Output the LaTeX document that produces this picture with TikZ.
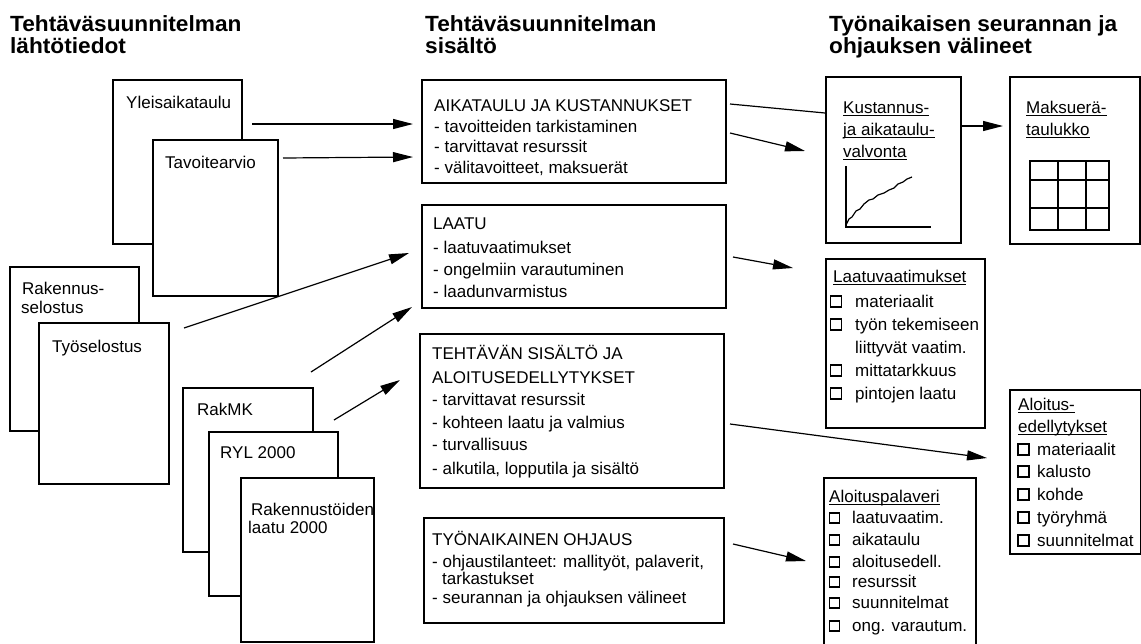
\documentclass[tikz,border=0pt]{standalone}
\usepackage{fontspec}
\setmainfont{Liberation Sans}
\newfontfamily\headfont{Liberation Sans}[FakeStretch=1.03]
\usetikzlibrary{arrows.meta,calc}
\newcommand{\ulin}[1]{\setbox0=\hbox{#1}\rlap{\rule[-2.6pt]{\wd0}{1.1pt}}\box0}

\begin{document}
\begin{tikzpicture}[x=1pt,y=-1pt,
  doc/.style={draw=black,fill=white,line width=1.5pt,anchor=north west,inner sep=0pt},
  txt/.style={anchor=base west,inner sep=0pt,font=\fontsize{17}{20}\selectfont},
  head/.style={anchor=base west,inner sep=0pt,font=\headfont\bfseries\fontsize{22}{20}\selectfont},
  chk/.style={draw=black,line width=1.2pt,minimum size=11pt,inner sep=0pt},
  arr/.style={-{Triangle[length=20pt,width=10pt]},line width=1.2pt}]
\useasboundingbox (0,0) rectangle (1141,643);
\clip (0,0) rectangle (1141,643);
\node[head] (h1a) at (10,31) {Tehtäväsuunnitelman};
\node[head] (h1b) at (10,53) {lähtötiedot};
\node[head] (h2a) at (425,31) {Tehtäväsuunnitelman};
\node[head] (h2b) at (425,53) {sisältö};
\node[head] (h3a) at (829,31) {Työnaikaisen seurannan ja};
\node[head] (h3b) at (829,53) {ohjauksen välineet};
\node[doc,minimum width=129,minimum height=164] (yleis) at (112,79) {};
\node[txt] (yleis-t) at (126,108) {Yleisaikataulu};
\node[doc,minimum width=125,minimum height=156] (tavo) at (152,139) {};
\node[txt] (tavo-t) at (165,168) {Tavoitearvio};
\node[doc,minimum width=129,minimum height=164] (rakselo) at (9,266) {};
\node[txt] (rakselo-t1) at (22,294) {Rakennus-};
\node[txt] (rakselo-t2) at (21,313) {selostus};
\node[doc,minimum width=130,minimum height=161] (tyoselo) at (38,322) {};
\node[txt] (tyoselo-t) at (52,352) {Työselostus};
\node[doc,minimum width=130,minimum height=164] (rakmk) at (182,387) {};
\node[txt] (rakmk-t) at (197,415) {RakMK};
\node[doc,minimum width=129,minimum height=164] (ryl) at (208,431) {};
\node[txt] (ryl-t) at (220,458) {RYL 2000};
\node[doc,minimum width=133,minimum height=164] (raklaatu) at (240,477) {};
\node[txt] (raklaatu-t1) at (251,515) {Rakennustöiden};
\node[txt] (raklaatu-t2) at (248,533) {laatu 2000};
\node[doc,minimum width=304,minimum height=103] (aik) at (421,79) {};
\node[txt] (aik-t1) at (434,111) {AIKATAULU JA KUSTANNUKSET};
\node[txt] (aik-t2) at (434,132) {- tavoitteiden tarkistaminen};
\node[txt] (aik-t3) at (434,152) {- tarvittavat resurssit};
\node[txt] (aik-t4) at (434,173) {- välitavoitteet, maksuerät};
\node[doc,minimum width=304,minimum height=103] (laatu) at (421,204) {};
\node[txt] (laatu-t1) at (433,229) {LAATU};
\node[txt] (laatu-t2) at (433,253) {- laatuvaatimukset};
\node[txt] (laatu-t3) at (433,275) {- ongelmiin varautuminen};
\node[txt] (laatu-t4) at (433,297) {- laadunvarmistus};
\node[doc,minimum width=304,minimum height=154] (teht) at (419,333) {};
\node[txt] (teht-t1) at (432,359) {TEHTÄVÄN SISÄLTÖ JA};
\node[txt] (teht-t2) at (432,383) {ALOITUSEDELLYTYKSET};
\node[txt] (teht-t3) at (432,405) {- tarvittavat resurssit};
\node[txt] (teht-t4) at (432,428) {- kohteen laatu ja valmius};
\node[txt] (teht-t5) at (432,450) {- turvallisuus};
\node[txt] (teht-t6) at (432,474) {- alkutila, lopputila ja sisältö};
\node[doc,minimum width=300,minimum height=105] (tyon) at (423,517) {};
\node[txt] (tyon-t1) at (432,545) {TYÖNAIKAINEN OHJAUS};
\node[txt] (tyon-t2) at (432,567) {- ohjaustilanteet: mallityöt, palaverit,};
\node[txt] (tyon-t3) at (442,584) {tarkastukset};
\node[txt] (tyon-t4) at (432,603) {- seurannan ja ohjauksen välineet};
\node[doc,minimum width=135,minimum height=166] (kust) at (825,76) {};
\node[txt] (kust-t1) at (843,113) {\ulin{Kustannus-}};
\node[txt] (kust-t2) at (843,135) {\ulin{ja aikataulu-}};
\node[txt] (kust-t3) at (843,157) {\ulin{valvonta}};
\draw[line width=1.4pt] (846,166) -- (846,227) -- (931,227);
\draw[line width=1.2pt] (846,225) -- (849,219) -- (852,217) -- (856,211) -- (860,209) -- (864,204) -- (869,200) -- (873,199) -- (878,195) -- (884,193) -- (889,190) -- (894,188) -- (898,184) -- (903,182) -- (907,179) -- (912,177);
\node[doc,minimum width=130,minimum height=167] (maks) at (1009,76) {};
\node[txt] (maks-t1) at (1026,113) {\ulin{Maksuerä-}};
\node[txt] (maks-t2) at (1026,135) {\ulin{taulukko}};
\draw[line width=1.4pt] (1030,161) rectangle (1109,230);
\draw[line width=1.4pt] (1058,161) -- (1058,230);
\draw[line width=1.4pt] (1086,161) -- (1086,230);
\draw[line width=1.4pt] (1030,180) -- (1109,180);
\draw[line width=1.4pt] (1030,208) -- (1109,208);
\node[doc,minimum width=159,minimum height=169] (laatuv) at (825,258) {};
\node[txt] (laatuv-t) at (833,282) {\ulin{Laatuvaatimukset}};
\node[chk] (laatuv-c1) at (836,301.5) {};
\node[txt] (laatuv-t1) at (855,307) {materiaalit};
\node[chk] (laatuv-c2) at (836,324.5) {};
\node[txt] (laatuv-t2) at (855,330) {työn tekemiseen};
\node[txt] (laatuv-t3) at (855,353) {liittyvät vaatim.};
\node[chk] (laatuv-c4) at (836,370.5) {};
\node[txt] (laatuv-t4) at (855,376) {mittatarkkuus};
\node[chk] (laatuv-c5) at (836,393.5) {};
\node[txt] (laatuv-t5) at (855,399) {pintojen laatu};
\node[doc,minimum width=131,minimum height=164] (aloed) at (1009,389) {};
\node[txt] (aloed-t1) at (1018,410) {\ulin{Aloitus-}};
\node[txt] (aloed-t2) at (1018,432) {\ulin{edellytykset}};
\node[chk] (aloed-c1) at (1023.5,449.5) {};
\node[txt] (aloed-i1) at (1037,455) {materiaalit};
\node[chk] (aloed-c2) at (1023.5,471.5) {};
\node[txt] (aloed-i2) at (1037,477) {kalusto};
\node[chk] (aloed-c3) at (1023.5,494.5) {};
\node[txt] (aloed-i3) at (1037,500) {kohde};
\node[chk] (aloed-c4) at (1023.5,517.5) {};
\node[txt] (aloed-i4) at (1037,523) {työryhmä};
\node[chk] (aloed-c5) at (1023.5,540.5) {};
\node[txt] (aloed-i5) at (1037,546) {suunnitelmat};
\node[doc,minimum width=152,minimum height=180] (alopal) at (823,477) {};
\node[txt] (alopal-t) at (829,502) {\ulin{Aloituspalaveri}};
\node[chk,minimum size=10pt] (alopal-c1) at (834.5,518) {};
\node[txt] (alopal-i1) at (852,523) {laatuvaatim.};
\node[chk,minimum size=10pt] (alopal-c2) at (834.5,540) {};
\node[txt] (alopal-i2) at (852,545) {aikataulu};
\node[chk,minimum size=10pt] (alopal-c3) at (834.5,562) {};
\node[txt] (alopal-i3) at (852,567) {aloitusedell.};
\node[chk,minimum size=10pt] (alopal-c4) at (834.5,582) {};
\node[txt] (alopal-i4) at (852,587) {resurssit};
\node[chk,minimum size=10pt] (alopal-c5) at (834.5,603) {};
\node[txt] (alopal-i5) at (852,608) {suunnitelmat};
\node[chk,minimum size=10pt] (alopal-c6) at (834.5,626) {};
\node[txt] (alopal-i6) at (852,631) {ong. varautum.};
\coordinate (yleis-out) at (252,124);
\coordinate (tavo-out) at (283,158);
\coordinate (tyoselo-out) at (184,328);
\coordinate (rakmk-out1) at (311,372);
\coordinate (rakmk-out2) at (334,420);
\coordinate (aik-in1) at (413,124);
\coordinate (aik-in2) at (413,157);
\coordinate (laatu-in1) at (409,253);
\coordinate (laatu-in2) at (412,307);
\coordinate (teht-in) at (400,380);
\coordinate (aik-out1) at (730,104);
\coordinate (aik-out2) at (730,133);
\coordinate (kust-in1) at (825,113);
\coordinate (kust-in2) at (805,151);
\coordinate (kust-out) at (960,126);
\coordinate (maks-in) at (1003,126);
\coordinate (laatu-out) at (733,257);
\coordinate (laatuv-in) at (793,268);
\coordinate (teht-out) at (730,424);
\coordinate (aloed-in) at (987,458);
\coordinate (tyon-out) at (733,544);
\coordinate (alopal-in) at (806,561);
\draw[arr] (yleis-out) -- (aik-in1);
\draw[arr] (tavo-out) -- (aik-in2);
\draw[arr] (tyoselo-out) -- (laatu-in1);
\draw[arr] (rakmk-out1) -- (laatu-in2);
\draw[arr] (rakmk-out2) -- (teht-in);
\draw[line width=1.2pt] (aik-out1) -- (kust-in1);
\draw[arr] (aik-out2) -- (kust-in2);
\draw[arr] (kust-out) -- (maks-in);
\draw[arr] (laatu-out) -- (laatuv-in);
\draw[arr] (teht-out) -- (aloed-in);
\draw[arr] (tyon-out) -- (alopal-in);
\end{tikzpicture}
\end{document}
